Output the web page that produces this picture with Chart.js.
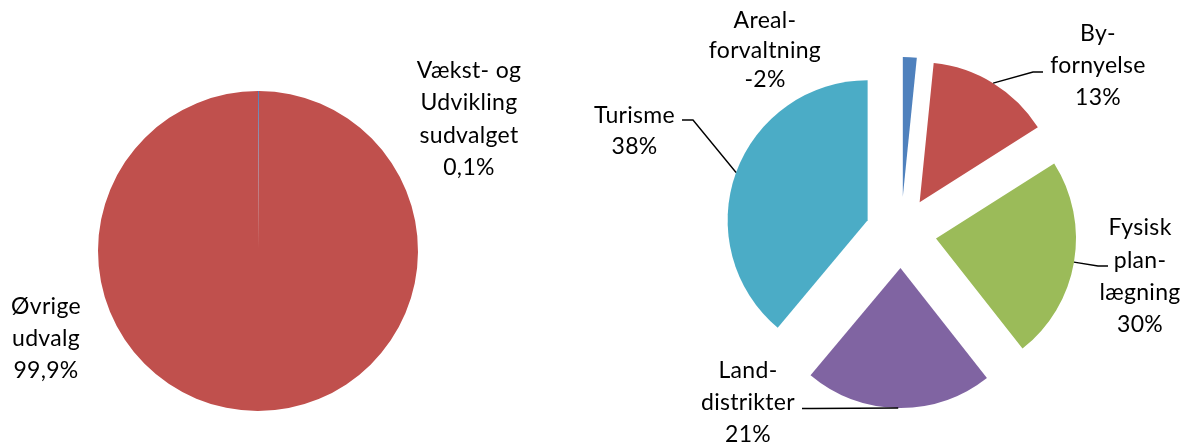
<!DOCTYPE html>
<html><head><meta charset="utf-8">
<script src="https://cdn.jsdelivr.net/npm/chart.js@4"></script>
<style>
html,body{margin:0;padding:0;background:#fff;}
#wrap{position:relative;width:1190px;height:446px;overflow:hidden;}
canvas{position:absolute;left:0;top:0;}
</style></head><body>
<div id="wrap"><canvas id="c1" width="1190" height="446"></canvas><canvas id="c2" width="1190" height="446"></canvas></div>
<script>
// ---- data ----
const leftCategories = [["Vækst- og", "Udvikling", "sudvalget"], ["Øvrige", "udvalg"]];
const leftValues = [0.1, 99.9];
const leftLabels = ["0,1%", "99,9%"];

const rightCategories = [["Areal-", "forvaltning"], ["By-", "fornyelse"], ["Fysisk", "plan-", "lægning"], ["Land-", "distrikter"], ["Turisme"]];
const rightValues = [1.6, 14.4, 23.4, 21.7, 38.9];
const rightLabels = ["-2%", "13%", "30%", "21%", "38%"];

// ---- styles ----
const leftColors = ["#4F81BD", "#C0504D"];
const rightColors = ["#4F81BD", "#C0504D", "#9BBB59", "#8064A2", "#4BACC6"];
const FONT_SIZE = 23;
const FONT = FONT_SIZE + "px Lato, 'Open Sans', sans-serif";

const explodePlugin = {
  id: 'explode',
  beforeDatasetDraw(chart, args, opts) {
    const d = (opts && opts.distance) || 0;
    const ctx = chart.ctx;
    args.meta.data.forEach(el => {
      const mid = (el.startAngle + el.endAngle) / 2;
      ctx.save();
      ctx.translate(Math.cos(mid) * d, Math.sin(mid) * d);
      el.draw(ctx, chart.chartArea);
      ctx.restore();
    });
    return false;
  }
};

const labelPlugin = {
  id: 'sliceLabels',
  afterDatasetsDraw(chart, args, opts) {
    const ctx = chart.ctx;
    const meta = chart.getDatasetMeta(0);
    const d = (chart.options.plugins.explode && chart.options.plugins.explode.distance) || 0;
    ctx.save();
    ctx.font = FONT;
    if ('letterSpacing' in ctx) ctx.letterSpacing = '0.3px';
    ctx.fillStyle = '#000';
    ctx.textAlign = 'center';
    ctx.textBaseline = 'alphabetic';
    const cap = FONT_SIZE * 0.717;
    opts.items.forEach((it, i) => {
      const lines = opts.lines[i].concat([opts.values[i]]);
      lines.forEach((t, k) => {
        ctx.fillText(t, it.x, it.y + k * it.lh + cap / 2);
      });
      if (it.leader) {
        const el = meta.data[i];
        const mid = (el.startAngle + el.endAngle) / 2;
        const r = el.outerRadius + d;
        const ax = el.x + Math.cos(mid) * r;
        const ay = el.y + Math.sin(mid) * r;
        ctx.beginPath();
        ctx.moveTo(ax, ay);
        it.leader.forEach(p => ctx.lineTo(p[0], p[1]));
        ctx.strokeStyle = '#000';
        ctx.lineWidth = 1.4;
        ctx.stroke();
      }
    });
    ctx.restore();
  }
};

function build() {
  new Chart(document.getElementById('c1'), {
    type: 'pie',
    data: { labels: leftCategories.map(a => a.join(' ')), datasets: [{ data: leftValues, backgroundColor: leftColors, borderWidth: 0, radius: 160 }] },
    options: {
      responsive: false, animation: false, events: [],
      layout: { padding: { left: 0, right: 674, top: 56, bottom: 0 } },
      plugins: {
        legend: { display: false }, tooltip: { enabled: false },
        explode: { distance: 0 },
        sliceLabels: {
          lines: leftCategories, values: leftLabels,
          items: [ { x: 469, y: 69.5, lh: 32.5 }, { x: 46, y: 306, lh: 32 } ]
        }
      }
    },
    plugins: [explodePlugin, labelPlugin]
  });

  new Chart(document.getElementById('c2'), {
    type: 'pie',
    data: { labels: rightCategories.map(a => a.join('')), datasets: [{ data: rightValues, backgroundColor: rightColors, borderWidth: 0, radius: 140 }] },
    options: {
      responsive: false, animation: false, events: [],
      layout: { padding: { left: 612, right: 0, top: 19, bottom: 0 } },
      plugins: {
        legend: { display: false }, tooltip: { enabled: false },
        explode: { distance: 35.5 },
        sliceLabels: {
          lines: rightCategories, values: rightLabels,
          items: [
            { x: 765, y: 20, lh: 29.3 },
            { x: 1098, y: 32.5, lh: 32.3, leader: [[1033, 72], [1043, 72]] },
            { x: 1140, y: 227, lh: 32.3, leader: [[1098, 266], [1108, 266]] },
            { x: 748, y: 370, lh: 32, leader: [[812, 408.5], [802, 408.5]] },
            { x: 634.5, y: 114.5, lh: 31.5, leader: [[693, 120], [682, 120]] }
          ]
        }
      }
    },
    plugins: [explodePlugin, labelPlugin]
  });
}

if (document.fonts && document.fonts.load) {
  document.fonts.load(FONT).then(build, build);
} else { build(); }
</script>
</body></html>
